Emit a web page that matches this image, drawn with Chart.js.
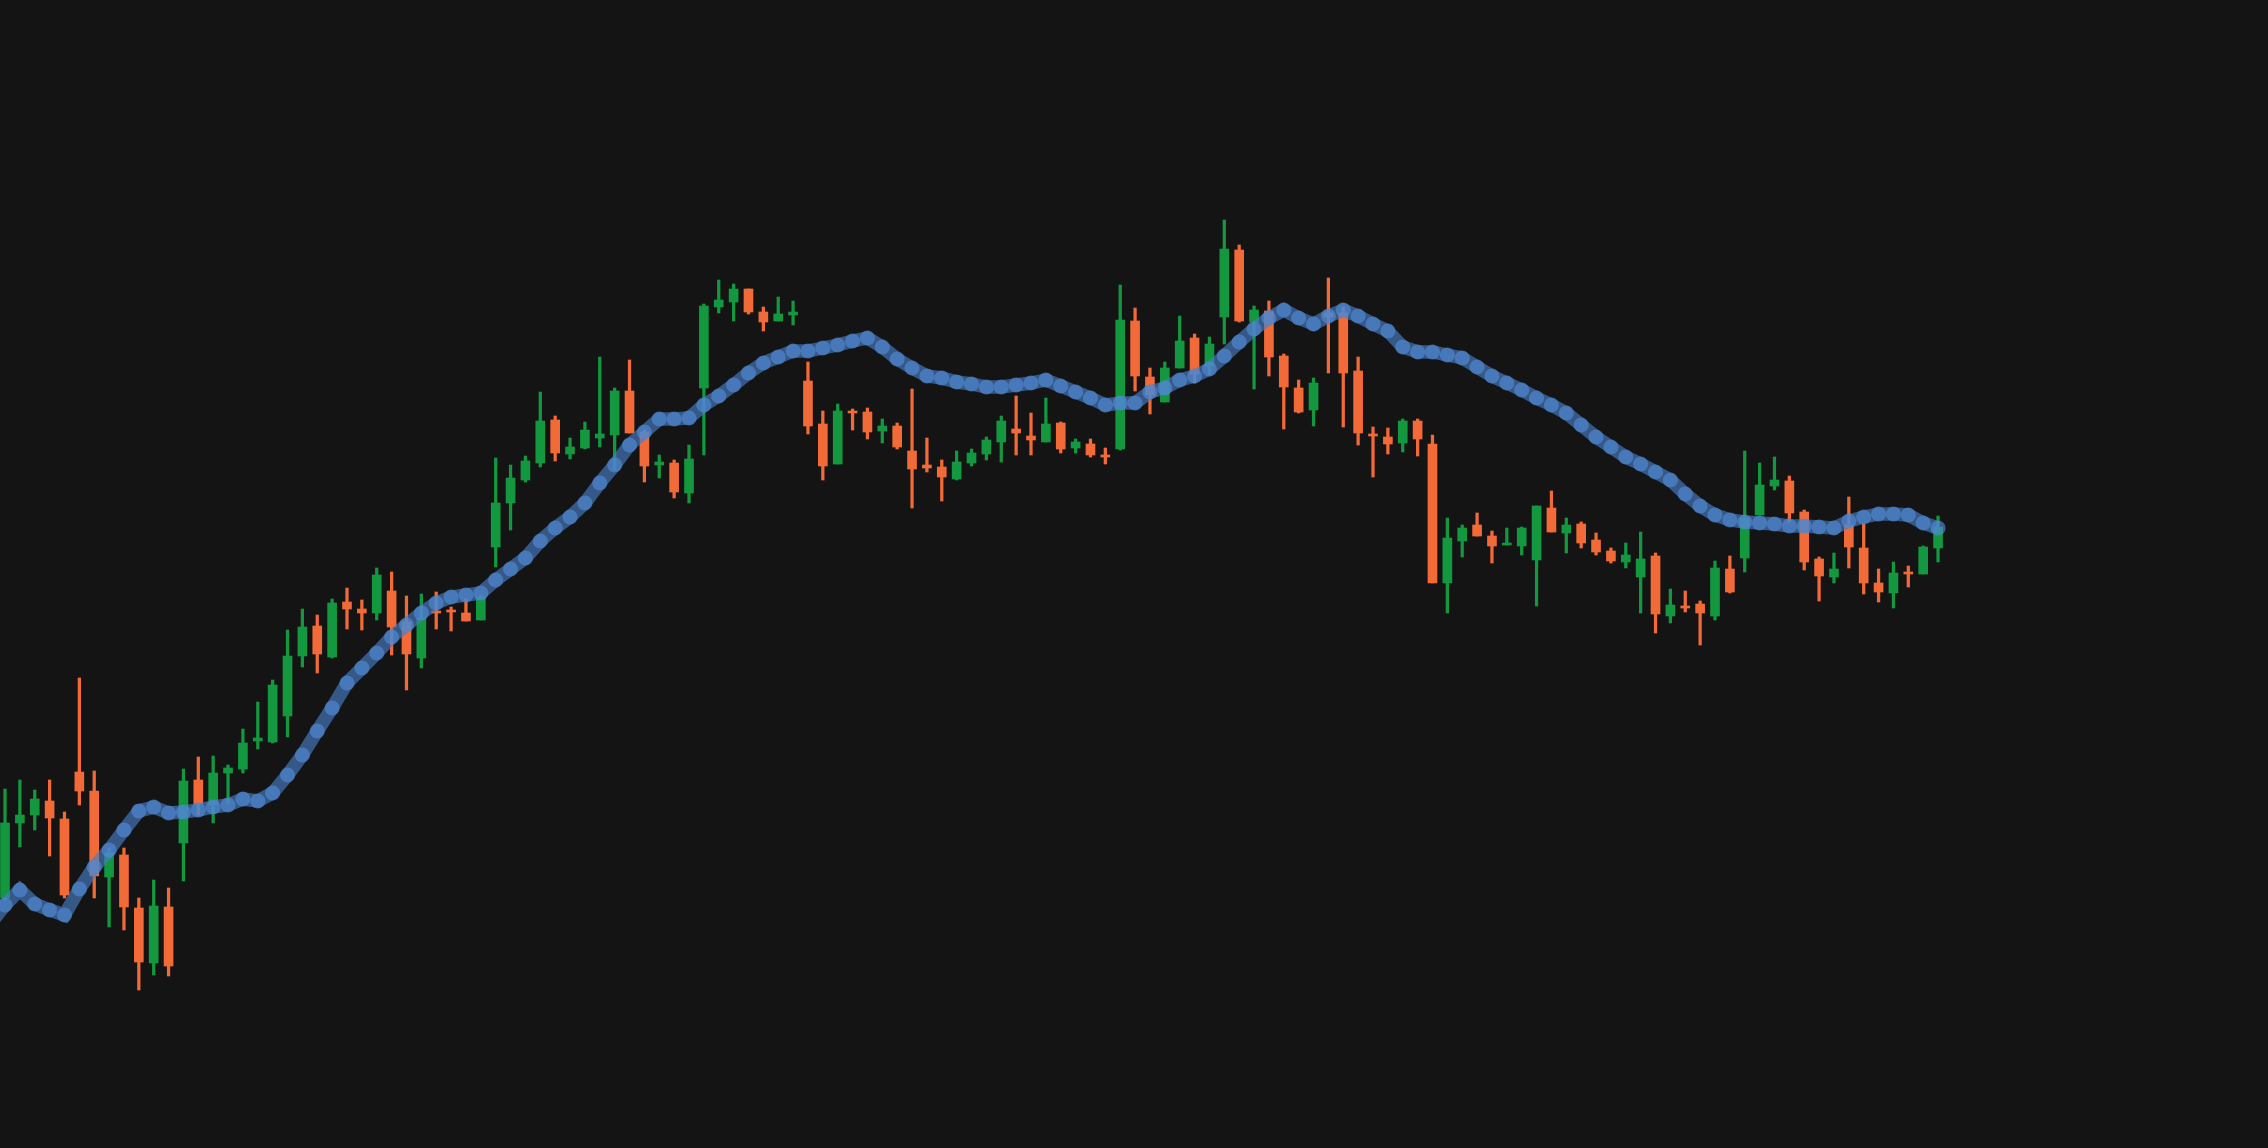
<!DOCTYPE html>
<html>
<head>
<meta charset="utf-8">
<title>Candles</title>
<script src="https://cdn.jsdelivr.net/npm/chart.js@4.4.1/dist/chart.umd.min.js"></script>
<style>
  html, body { margin: 0; padding: 0; background: #141414; overflow: hidden; }
  #wrap { width: 2268px; height: 1148px; position: relative; }
</style>
</head>
<body>
<div id="wrap"><canvas id="price-chart"></canvas></div>
<script>
// --- OHLC per candle (index 0..130) ---
const open = [
  30.2, 37.7, 38.5, 39.9, 38.1, 42.8, 40.9, 32.3, 34.5, 29.2,
  23.7, 29.3, 35.7, 42.0, 39.5, 42.7, 43.1, 45.9, 45.8, 48.4,
  54.4, 57.4, 54.3, 59.8, 59.1, 58.7, 60.9, 57.8, 54.2, 58.9,
  59.0, 58.7, 58.0, 65.3, 69.7, 72.0, 73.7, 78.0, 74.6, 75.2,
  76.2, 76.5, 80.9, 76.8, 73.5, 73.7, 70.7, 81.2, 89.3, 89.8,
  91.1, 88.8, 87.9, 88.5, 81.9, 77.6, 73.6, 78.9, 78.8, 76.9,
  77.4, 74.9, 73.5, 73.3, 72.1, 73.7, 74.6, 75.8, 77.1, 76.4,
  75.8, 77.7, 75.2, 75.6, 74.5, 75.1, 87.9, 82.3, 79.8, 83.2,
  86.2, 83.4, 88.3, 95.0, 87.8, 88.9, 84.4, 81.2, 79.0, 88.7,
  88.7, 82.9, 76.6, 76.3, 75.7, 77.9, 75.6, 61.7, 65.9, 67.5,
  66.4, 65.5, 65.4, 64.0, 69.2, 66.7, 67.6, 66.0, 64.9, 63.8,
  62.3, 64.4, 58.4, 59.4, 59.6, 58.4, 63.1, 64.2, 68.5, 71.4,
  71.9, 68.8, 64.1, 62.3, 67.5, 65.2, 61.7, 60.7, 62.8, 62.6,
  65.2
];
const high = [
  41.1, 42.0, 41.0, 42.0, 38.8, 52.2, 42.9, 35.2, 35.2, 30.2,
  32.0, 31.2, 43.1, 44.3, 44.4, 43.5, 47.1, 49.8, 52.0, 57.0,
  59.1, 58.5, 60.1, 61.2, 60.0, 63.2, 62.8, 60.4, 60.6, 60.8,
  59.3, 60.1, 60.5, 74.2, 73.5, 74.4, 80.8, 78.4, 76.2, 77.8,
  84.3, 81.2, 84.0, 77.0, 74.5, 74.0, 75.5, 89.6, 92.0, 91.6,
  91.1, 89.3, 90.3, 89.9, 83.8, 78.9, 79.6, 79.1, 79.2, 78.1,
  77.7, 81.1, 76.2, 74.0, 74.9, 75.1, 76.3, 78.4, 80.4, 78.7,
  80.2, 77.8, 76.1, 76.1, 75.2, 91.5, 89.2, 83.2, 83.8, 88.4,
  86.6, 86.3, 98.0, 95.5, 89.4, 89.9, 84.6, 82.0, 82.2, 92.2,
  89.3, 84.3, 77.3, 77.2, 78.1, 78.1, 76.5, 68.2, 67.5, 68.7,
  66.9, 67.2, 67.3, 69.4, 70.9, 68.2, 67.8, 66.7, 65.2, 65.7,
  66.8, 64.7, 61.1, 60.9, 59.9, 63.9, 64.4, 74.9, 73.7, 74.3,
  72.4, 69.0, 64.3, 64.7, 70.3, 67.6, 63.1, 63.8, 63.4, 65.4,
  68.4
];
const low = [
  30.0, 35.3, 37.0, 34.4, 30.2, 39.5, 30.2, 27.3, 27.0, 21.0,
  22.5, 22.4, 31.9, 38.5, 37.7, 39.6, 42.7, 45.1, 45.7, 46.3,
  53.3, 52.7, 54.2, 57.1, 57.0, 58.0, 54.5, 51.0, 53.2, 57.1,
  56.9, 57.9, 58.0, 63.3, 67.0, 71.8, 73.3, 73.9, 74.1, 75.1,
  75.3, 73.0, 76.7, 71.8, 72.2, 70.2, 69.7, 74.5, 88.7, 87.9,
  88.6, 86.9, 87.9, 87.5, 76.6, 72.0, 73.6, 77.0, 76.1, 75.7,
  75.1, 69.2, 72.8, 69.9, 72.0, 73.4, 74.0, 73.8, 74.5, 74.5,
  75.8, 74.7, 74.7, 74.3, 73.6, 75.0, 80.9, 78.6, 79.8, 83.2,
  81.7, 82.5, 85.6, 87.8, 81.1, 82.4, 77.1, 78.7, 77.4, 82.7,
  77.3, 75.5, 72.3, 74.6, 74.8, 74.4, 61.7, 58.7, 64.3, 66.4,
  63.7, 65.5, 64.5, 59.4, 66.8, 64.7, 65.2, 64.5, 63.7, 63.2,
  58.7, 56.7, 57.7, 58.8, 55.5, 58.0, 60.7, 62.8, 68.5, 71.0,
  67.8, 63.0, 59.9, 61.7, 63.2, 60.6, 59.8, 59.2, 61.3, 62.6,
  63.8
];
const close = [
  37.7, 38.5, 40.1, 38.2, 30.5, 40.9, 32.4, 34.7, 29.3, 23.8,
  29.4, 23.4, 41.9, 39.6, 42.7, 43.2, 45.7, 46.2, 51.5, 54.4,
  57.3, 54.6, 59.7, 59.1, 58.7, 62.5, 57.3, 54.6, 58.2, 58.7,
  58.8, 57.9, 60.3, 69.7, 72.2, 73.9, 77.9, 74.7, 75.3, 77.0,
  76.6, 80.9, 76.7, 73.4, 73.8, 70.8, 74.1, 89.4, 90.0, 91.1,
  88.8, 87.8, 88.6, 88.8, 77.4, 73.4, 78.9, 78.7, 76.8, 77.4,
  75.3, 73.1, 73.2, 72.3, 73.8, 74.7, 76.0, 77.9, 76.7, 76.0,
  77.6, 75.1, 75.8, 74.5, 74.3, 88.0, 82.4, 80.5, 83.2, 85.9,
  82.6, 85.6, 95.1, 87.9, 89.0, 84.3, 81.3, 78.8, 81.7, 88.3,
  82.7, 76.7, 76.4, 75.6, 77.9, 76.1, 61.7, 66.2, 67.2, 66.4,
  65.4, 65.7, 67.2, 69.4, 66.8, 67.5, 65.7, 64.8, 63.9, 64.5,
  64.1, 58.6, 59.5, 59.2, 58.7, 63.2, 60.8, 68.2, 71.5, 72.0,
  68.7, 63.8, 62.4, 63.1, 65.3, 61.7, 60.8, 62.7, 62.6, 65.3,
  67.3
];

// Glidande medelvärde, första värdet hör till stapeln före första synliga ljuset
const maStart = -1;
const ma = [
  27.6,
  29.5, 31.0, 29.6, 29.0, 28.5, 31.1, 33.3, 35.0, 37.0, 38.9,
  39.3, 38.7, 38.8, 39.0, 39.3, 39.5, 40.1, 39.9, 40.7, 42.5,
  44.5, 46.9, 49.2, 51.7, 53.2, 54.7, 56.3, 57.5, 58.7, 59.7,
  60.3, 60.5, 60.7, 62.0, 63.1, 64.2, 65.9, 67.2, 68.3, 69.7,
  71.7, 73.5, 75.5, 76.8, 78.1, 78.1, 78.2, 79.5, 80.4, 81.5,
  82.7, 83.7, 84.3, 84.9, 84.9, 85.2, 85.5, 85.9, 86.2, 85.3,
  84.1, 83.2, 82.4, 82.2, 81.8, 81.6, 81.3, 81.3, 81.5, 81.7,
  82.0, 81.4, 80.8, 80.2, 79.5, 79.7, 79.7, 80.8, 81.2, 82.0,
  82.4, 83.1, 84.4, 85.8, 87.1, 88.2, 89.0, 88.2, 87.6, 88.4,
  89.0, 88.4, 87.6, 86.9, 85.3, 84.8, 84.8, 84.5, 84.2, 83.3,
  82.4, 81.7, 81.0, 80.2, 79.5, 78.7, 77.5, 76.3, 75.3, 74.3,
  73.6, 72.8, 72.0, 70.6, 69.4, 68.5, 68.0, 67.8, 67.7, 67.6,
  67.4, 67.4, 67.3, 67.2, 67.9, 68.3, 68.6, 68.6, 68.5, 67.7,
  67.2
];

const UP = '#14983f';
const DOWN = '#f26a38';
const MA_LINE = 'rgba(72, 125, 195, 0.66)';
const MA_DOT = 'rgba(80, 138, 212, 0.66)';

// Färg per ljus
const candleColors = open.map((o, i) => close[i] >= o ? UP : DOWN);

const wicks = open.map((o, i) => ({ x: i, y: [low[i], high[i]] }));
const bodies = open.map((o, i) => ({ x: i, y: [Math.min(o, close[i]), Math.max(o, close[i])] }));
const maPoints = ma.map((v, k) => ({ x: k + maStart, y: v }));

const ctx = document.getElementById('price-chart').getContext('2d');

new Chart(ctx, {
    type: 'bar',
    data: {
        datasets: [
            {
                type: 'line',
                label: 'MA',
                data: maPoints,
                borderColor: MA_LINE,
                borderWidth: 13.5,
                pointRadius: 7.6,
                pointBackgroundColor: MA_DOT,
                pointBorderWidth: 0,
                tension: 0,
                order: 0
            },
            {
                label: 'Body',
                data: bodies,
                backgroundColor: candleColors,
                borderWidth: 0,
                barThickness: 9,
                grouped: false,
                order: 1
            },
            {
                label: 'Wick',
                data: wicks,
                backgroundColor: candleColors,
                borderWidth: 0,
                barThickness: 2.6,
                grouped: false,
                order: 2
            }
        ]
    },
    options: {
        responsive: true,
        maintainAspectRatio: false,
        animation: false,
        layout: { padding: 0, autoPadding: false },
        scales: {
            x: {
                type: 'linear',
                display: false,
                offset: false,
                min: -0.336,
                max: 152.19
            },
            y: {
                type: 'linear',
                display: false,
                min: 5.2,
                max: 120
            }
        },
        plugins: {
            legend: { display: false },
            tooltip: { enabled: false }
        }
    }
});
</script>
</body>
</html>
